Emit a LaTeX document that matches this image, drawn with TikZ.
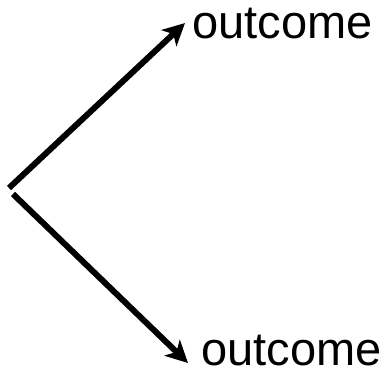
\documentclass[tikz,border=0pt]{standalone}
\usepackage{fontspec}
\setmainfont{Liberation Sans}
\usetikzlibrary{arrows.meta,positioning}

\begin{document}
\begin{tikzpicture}[
  x=1pt, y=-1pt,
  lbl/.style={inner sep=0pt, anchor=base west, font=\fontsize{47}{50}\selectfont},
  arr/.style={line width=6pt, -{Stealth[length=22pt,width=22pt,inset=6pt]}}
]
\useasboundingbox (0,0) rectangle (386,375);
\coordinate (r1) at (9,188);
\coordinate (r2) at (13,194);
\node[lbl] (top) at (192,38) {outcome};
\node[lbl] (bot) at (201,365) {outcome};
\draw[arr] (r1) -- ([xshift=-7pt,yshift=0pt]top.west);
\draw[arr] (r2) -- ([xshift=-13pt,yshift=-13pt]bot.west);
\end{tikzpicture}
\end{document}
